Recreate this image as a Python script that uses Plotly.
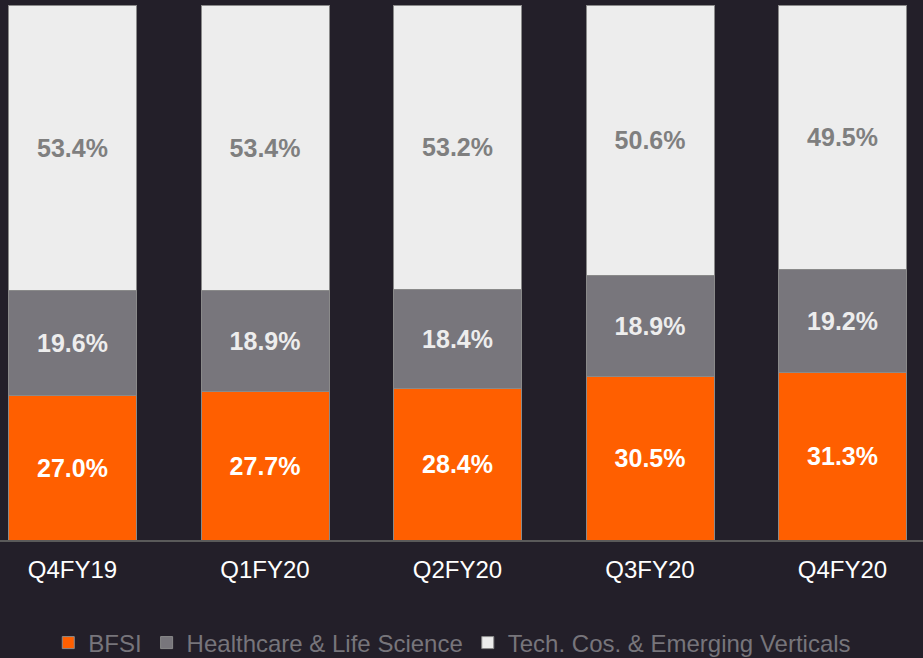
import plotly.graph_objects as go

categories = ["Q4FY19", "Q1FY20", "Q2FY20", "Q3FY20", "Q4FY20"]
bfsi = [27.0, 27.7, 28.4, 30.5, 31.3]
healthcare = [19.6, 18.9, 18.4, 18.9, 19.2]
tech = [53.4, 53.4, 53.2, 50.6, 49.5]

series = [
    ("BFSI", bfsi, "#FF5F00", "#FFFFFF"),
    ("Healthcare & Life Science", healthcare, "#78767C", "#EDEDED"),
    ("Tech. Cos. & Emerging Verticals", tech, "#EDEDED", "#7F7F7F"),
]

fig = go.Figure()
for name, vals, color, tcolor in series:
    fig.add_trace(go.Bar(
        x=categories, y=vals, name=name,
        marker=dict(color=color, line=dict(color="#8A8A8A", width=1)),
        text=[f"{v:.1f}%" for v in vals],
        textposition="inside", insidetextanchor="middle",
        textfont=dict(family="Liberation Sans, Arial", size=25, color=tcolor, weight="bold"),
        constraintext="none",
        width=0.665,
    ))

fig.update_layout(
    barmode="stack",
    width=923, height=658,
    margin=dict(l=0, r=0, t=5, b=118, autoexpand=False),
    paper_bgcolor="#231F29", plot_bgcolor="#231F29",
    font=dict(family="Liberation Sans, Arial", color="#FFFFFF"),
    showlegend=True,
    legend=dict(orientation="h", x=0.49, xanchor="center", yref="container", y=0.0228, yanchor="middle",
                font=dict(size=24, color="#77757B"), bgcolor="rgba(0,0,0,0)",
                itemwidth=30, traceorder="normal"),
    xaxis=dict(range=[-0.3766, 4.418], showline=True, linecolor="#5A5A5A", linewidth=2,
               tickfont=dict(size=24, color="#FFFFFF"), ticks="", ticklabelstandoff=7,
               showgrid=False, zeroline=False, automargin=False),
    yaxis=dict(range=[0, 100], visible=False, showgrid=False, zeroline=False),
)

fig.write_html("out.html", config={"displayModeBar": False},
               post_script="document.body.style.margin='0';document.body.style.background='#231F29';")
